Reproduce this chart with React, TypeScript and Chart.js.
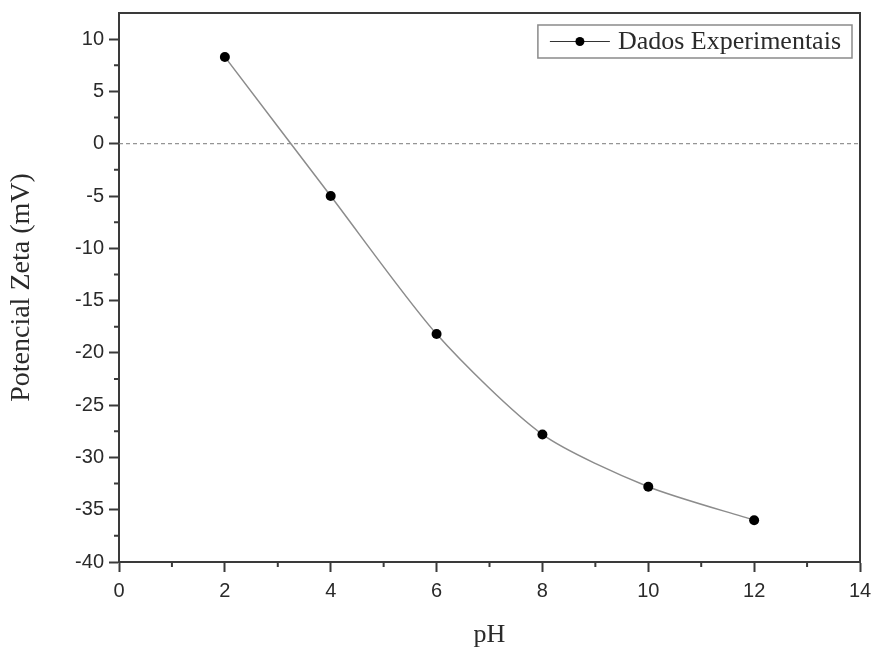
import React, { useEffect, useRef } from "react";
import { Chart, registerables } from "chart.js";

Chart.register(...registerables);

const phValues = [2, 4, 6, 8, 10, 12];
const zetaValues = [8.3, -5.0, -18.2, -27.8, -32.8, -36.0];
const xTickValues = [0, 2, 4, 6, 8, 10, 12, 14];
const yTickValues = [-40, -35, -30, -25, -20, -15, -10, -5, 0, 5, 10];
const seriesLabel = "Dados Experimentais";
const xTitle = "pH";
const yTitle = "Potencial Zeta (mV)";

const AXIS_COLOR = "#3a3a3a";

function midpoints(arr: number[]): number[] {
  const out: number[] = [];
  for (let i = 0; i < arr.length - 1; i++) out.push((arr[i] + arr[i + 1]) / 2);
  return out;
}

const framePlugin = {
  id: "frameAndExtras",
  beforeDatasetsDraw(chart: any) {
    const { ctx, chartArea, scales } = chart;
    const y0 = scales.y.getPixelForValue(0);
    ctx.save();
    ctx.strokeStyle = "#7a7a7a";
    ctx.lineWidth = 1;
    ctx.setLineDash([4, 3]);
    ctx.beginPath();
    ctx.moveTo(chartArea.left, y0);
    ctx.lineTo(chartArea.right, y0);
    ctx.stroke();
    ctx.restore();
  },
  afterDraw(chart: any) {
    const { ctx, chartArea, scales } = chart;
    ctx.save();
    ctx.strokeStyle = AXIS_COLOR;
    ctx.lineWidth = 2;
    ctx.beginPath();
    ctx.moveTo(chartArea.left - 1, chartArea.top);
    ctx.lineTo(chartArea.right, chartArea.top);
    ctx.lineTo(chartArea.right, chartArea.bottom + 1);
    ctx.stroke();
    ctx.lineWidth = 2;
    ctx.beginPath();
    midpoints(xTickValues).forEach((v) => {
      const px = scales.x.getPixelForValue(v);
      ctx.moveTo(px, chartArea.bottom);
      ctx.lineTo(px, chartArea.bottom + 5);
    });
    midpoints(yTickValues).forEach((v) => {
      const py = scales.y.getPixelForValue(v);
      ctx.moveTo(chartArea.left, py);
      ctx.lineTo(chartArea.left - 5, py);
    });
    ctx.stroke();

    const label = chart.data.datasets[0].label;
    ctx.font = '26px "Liberation Serif", "Times New Roman", serif';
    const tw = ctx.measureText(label).width;
    const boxRight = chartArea.right - 8;
    const boxTop = chartArea.top + 12;
    const boxH = 33;
    const lineLen = 60;
    const boxW = 10 + lineLen + 9 + tw + 12;
    const boxLeft = boxRight - boxW;
    ctx.strokeStyle = "#8a8a8a";
    ctx.lineWidth = 1.5;
    ctx.strokeRect(boxLeft, boxTop, boxW, boxH);
    const cy = boxTop + boxH / 2;
    ctx.strokeStyle = "#333";
    ctx.lineWidth = 1.2;
    ctx.beginPath();
    ctx.moveTo(boxLeft + 12, cy);
    ctx.lineTo(boxLeft + 12 + lineLen, cy);
    ctx.stroke();
    ctx.fillStyle = "#000";
    ctx.beginPath();
    ctx.arc(boxLeft + 12 + lineLen / 2, cy, 4.5, 0, Math.PI * 2);
    ctx.fill();
    ctx.fillStyle = "#2a2a2a";
    ctx.textBaseline = "middle";
    ctx.textAlign = "left";
    ctx.fillText(label, boxLeft + 12 + lineLen + 8, cy + 1);
    ctx.restore();
  },
};

export default function App() {
  const canvasRef = useRef<HTMLCanvasElement | null>(null);

  useEffect(() => {
    if (!canvasRef.current) return;
    const chart = new Chart(canvasRef.current, {
      type: "line",
      data: {
        datasets: [
          {
            label: seriesLabel,
            data: phValues.map((x, i) => ({ x, y: zetaValues[i] })),
            borderColor: "#8c8c8c",
            borderWidth: 1.5,
            tension: 0.25,
            pointRadius: 5,
            pointBackgroundColor: "#000",
            pointBorderColor: "#000",
            pointBorderWidth: 0,
          },
        ],
      },
      options: {
        responsive: false,
        animation: false,
        layout: { padding: { top: 13, right: 14, left: 0, bottom: 0 } },
        plugins: { legend: { display: false }, tooltip: { enabled: false } },
        scales: {
          x: {
            type: "linear",
            min: 0,
            max: 14,
            afterBuildTicks: (scale: any) => {
              scale.ticks = xTickValues.map((v) => ({ value: v }));
            },
            afterFit: (scale: any) => {
              scale.height = 89;
              scale.paddingLeft = 0;
              scale.paddingRight = 0;
            },
            grid: {
              drawOnChartArea: false,
              drawTicks: true,
              tickLength: 10,
              tickColor: AXIS_COLOR,
              tickWidth: 2,
            },
            border: { display: true, color: AXIS_COLOR, width: 2 },
            ticks: {
              color: "#2a2a2a",
              padding: 7,
              maxRotation: 0,
              font: { family: '"Liberation Sans", Arial, sans-serif', size: 20 },
            },
            title: {
              display: true,
              text: xTitle,
              color: "#2a2a2a",
              padding: { top: 0, bottom: 0 },
              font: { family: '"Liberation Serif", "Times New Roman", serif', size: 26 },
            },
          },
          y: {
            type: "linear",
            min: -40,
            max: 12.5,
            afterBuildTicks: (scale: any) => {
              scale.ticks = yTickValues.map((v) => ({ value: v }));
            },
            afterFit: (scale: any) => {
              scale.width = 119;
              scale.paddingTop = 0;
              scale.paddingBottom = 0;
            },
            grid: {
              drawOnChartArea: false,
              drawTicks: true,
              tickLength: 10,
              tickColor: AXIS_COLOR,
              tickWidth: 2,
            },
            border: { display: true, color: AXIS_COLOR, width: 2 },
            ticks: {
              color: "#2a2a2a",
              padding: 5,
              font: { family: '"Liberation Sans", Arial, sans-serif', size: 20 },
            },
            title: {
              display: true,
              text: yTitle,
              color: "#2a2a2a",
              padding: { top: 5, bottom: 0 },
              font: { family: '"Liberation Serif", "Times New Roman", serif', size: 28 },
            },
          },
        },
      },
      plugins: [framePlugin],
    });
    return () => chart.destroy();
  }, []);

  return (
    <div style={{ position: "absolute", left: 0, top: 0, width: 874, height: 651, background: "#fff" }}>
      <canvas ref={canvasRef} width={874} height={651} style={{ width: 874, height: 651 }} />
    </div>
  );
}
